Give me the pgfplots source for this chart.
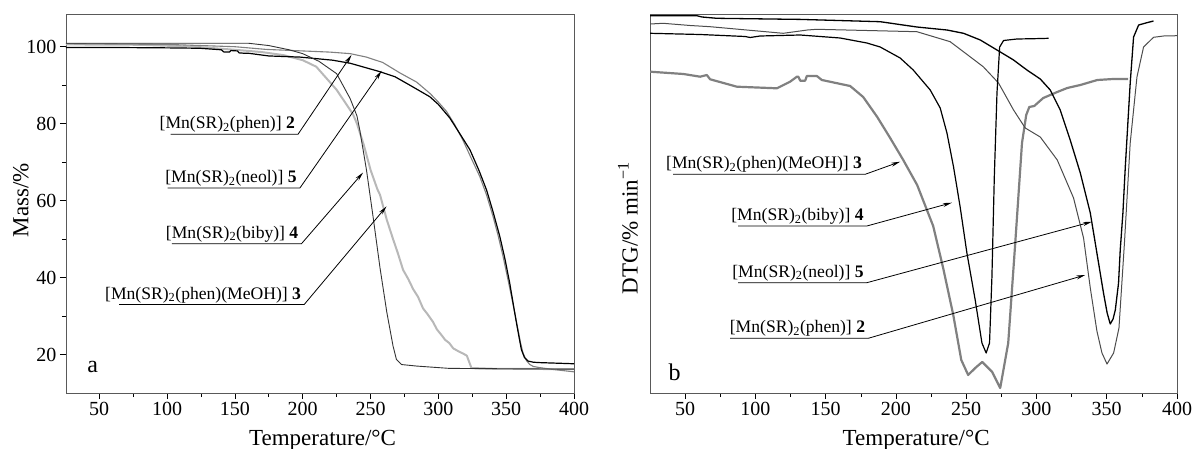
\documentclass[border=0pt]{standalone}
\usepackage{fontspec}
\setmainfont{Liberation Serif}
\usepackage{pgfplots}
\pgfplotsset{compat=1.18}
\usetikzlibrary{arrows.meta}

% TG curves (temperature, mass %)
\pgfplotstableread{
T m
25.5 100.8
60 100.7
100 100.6
150 100.0
173 99.3
200 98.9
220 98.6
235 98.2
247 97.3
259 95.9
271.6 93.2
284 90.8
294 87.8
300 85.6
306 83.2
312 79.8
318 75.8
324 71.2
330.5 66.3
335.5 61.5
340.3 55.9
344 51
347.7 45.5
351 40
353.9 35.1
356.5 30.5
358.7 26.5
360.5 23.2
362.4 20.4
365 18.4
367.4 17.4
370 16.9
374.7 16.6
385 16.1
400 15.5
}\tgphen
\pgfplotstableread{
T m
25.5 99.8
60 99.8
100 99.7
124 99.6
140 99.2
142 98.6
146 98.6
147 99.0
152 98.9
153 98.4
157 98.3
160 98.3
175 97.6
198 97.3
222 96.5
235 95.7
257 93.5
268 92.2
279 90.0
293.7 87.0
300 85.0
308.4 81.5
316 77.3
323.3 73.2
330 67.8
335.5 62.8
340 57.5
345.3 50.7
349 45
352.6 38.6
355.5 32.5
357.6 28.2
359.5 24.5
361.2 21.3
363.5 19.2
366.1 18.3
370 18.0
374.7 17.9
400 17.6
}\tgneol
\pgfplotstableread{
T m
25.5 100.9
100 100.9
160 100.9
175 100.3
190 99.2
200 98.2
212 96.2
225 93
235 86.5
240 82
242 78.5
247 68
252 55.5
257 42.5
262 31
266.6 22.2
269.1 18.7
272.8 17.4
284 17.0
308 16.4
350 16.3
400 16.2
}\tgbiby
\pgfplotstableread{
T m
25.5 100.6
80 100.5
120 100.0
150 99.2
170 98.6
186 97.8
200 96.5
210 94.8
225 88.8
237 82.5
240 80
245 74.5
250 68
255 63
257 61.5
262 55
266.6 50
270 46.5
274 42
278 39.5
281.4 37
285 35
288.7 32
292 30.5
296 28.5
299 26.5
302 25.2
305 23.8
308 23.0
311 21.6
315 20.8
318 20.3
321 19.7
324.4 16.5
340 16.3
400 16.2
}\tgmeoh

% DTG curves (temperature, relative units)
\pgfplotstableread{
T d
25.1 321.3
48.8 319
60.7 316.3
65.4 318
67.8 313.7
86.8 306.3
115.3 304.7
124.7 311.3
129.5 316.3
130.5 316.3
131.9 312.3
135.4 312.3
136.6 317
143.7 317
147.3 313
167.4 307
176.7 296
186.7 276
195.9 255
205.2 233
215.1 208
226.5 167
233.6 125
240.8 78
246.5 33
251.4 18
256.4 25
261.4 31
268.5 21
274.2 5
279.9 50
284.9 150
289.7 250
292.7 278
294.9 286
298.4 287
304.8 295
314.8 301
321.9 305
331.2 308
343.3 313
354.7 314
365.3 314
}\dtgmeoh
\pgfplotstableread{
T d
25.1 359.7
60.7 358.5
92.7 356.5
96.3 355.5
103.4 357
131.9 358
160.3 355
179.3 350
188.8 346
203 335
212.3 323
224.4 303
231.5 285
236.3 260
241 226
245.7 186
250.5 140
256.4 93
261.2 50
264.2 40
266.6 50
268.3 116
270 216
271.9 300
273.8 346
276.6 352.5
286.1 354
297.9 354.3
308.6 354.7
}\dtgbiby
\pgfplotstableread{
T d
25.1 377.3
58.3 377.3
62 376
72.6 374.7
131.9 373.6
188.8 371.3
214.9 366
236.3 363
248.1 359.7
260 353
271.9 343
283.7 333
293.2 323
302.7 314
309.8 303
316.9 283
324 253
331.2 220
338.3 180
343 140
347.7 100
350.3 80
352.5 69
354.5 74
356.1 83
358.4 110
359.6 143
361.5 180
363.2 226
366.7 310
369.1 356
372.7 368
378.6 370.3
383.3 372
}\dtgneol
\pgfplotstableread{
T d
25.1 369
34.3 369.7
53.6 367.5
67.8 366.3
119.8 359.7
137 363
143.7 363.7
214.9 361.3
238.6 351.3
262.1 326.3
273 310
283.7 283
292 265
302.7 256
314.8 233
326.4 195
333.5 155
338.3 105
343 62
346.6 40
350.2 29
354.9 40
358.7 65
362.6 150
366.7 250
371.5 316
376.2 346
383.3 355.7
390.5 357
400 357.3
}\dtgphen

\newcommand{\callout}[5]{%
  \draw[black, line width=0.8pt, -{Stealth[length=9pt,width=4pt]}]
    (axis cs:#1,#3) -- (axis cs:#2,#3) -- (axis cs:#4);
  \node[anchor=base east, inner sep=0pt, xshift=-3pt, yshift=5.5pt,
        font=\fontsize{17.6}{17.6}\selectfont] at (axis cs:#2,#3) {#5};
}
\newcommand{\mn}[1]{[Mn(SR)\textsubscript{2}#1]}

\pgfplotsset{
  panel/.style={
    scale only axis,
    height=379pt,
    axis line style={black!65, line width=0.8pt},
    tick style={black, line width=0.6pt},
    tick align=outside,
    tick pos=left,
    major tick length=6pt,
    minor tick length=4pt,
    xmax=400,
    xtick={50,100,...,400},
    minor x tick num=1,
    tick label style={font=\fontsize{20}{20}\selectfont},
    /pgf/number format/assume math mode=true,
    label style={font=\fontsize{23}{23}\selectfont},
    xlabel={Temperature/°C},
    xlabel style={at={(axis description cs:0.505,0)}, anchor=base, yshift=-52pt},
    clip mode=individual,
  },
}

\begin{document}
\begin{tikzpicture}
\path[use as bounding box] (0pt,0pt) rectangle (1195pt,448pt);

\begin{axis}[panel,
  at={(66pt,55pt)}, anchor=south west,
  width=508pt,
  xmin=25.5,
  ymin=10, ymax=108.5,
  ytick={20,40,...,100},
  minor y tick num=1,
  ylabel={Mass/\%},
  ylabel style={at={(axis description cs:-0.089,0.509)}, anchor=center},
]
\addplot[no marks, black!28, line width=2pt, line join=round] table[x=T, y=m] {\tgmeoh};
\addplot[no marks, black!50, line width=1.1pt, line join=round] table[x=T, y=m] {\tgphen};
\addplot[no marks, black, line width=1.2pt, line join=round] table[x=T, y=m] {\tgneol};
\addplot[no marks, black!80, line width=0.9pt, line join=round] table[x=T, y=m] {\tgbiby};

\callout{102.6}{196.6}{77.27}{236.0,97.85}{\mn{(phen)} \textbf{2}}
\callout{100.4}{197.9}{63.26}{258.1,93.7}{\mn{(neol)} \textbf{5}}
\callout{103.6}{199.1}{48.8}{244.5,67.3}{\mn{(biby)} \textbf{4}}
\callout{64.7}{201.1}{33.0}{261.8,58.5}{\mn{(phen)(MeOH)} \textbf{3}}
\node[anchor=base west, inner sep=0pt, font=\fontsize{24}{24}\selectfont] at (axis cs:41.2,15.26) {a};
\end{axis}

\begin{axis}[panel,
  at={(650pt,55pt)}, anchor=south west,
  width=527pt,
  xmin=25,
  ymin=0, ymax=379,
  ytick=\empty,
  ylabel={DTG/\% min\textsuperscript{−1}},
  ylabel style={at={(axis description cs:-0.042,0.435)}, anchor=center},
]
\addplot[no marks, black!50, line width=2.2pt, line join=round] table[x=T, y=d] {\dtgmeoh};
\addplot[no marks, black!70, line width=1pt, line join=round] table[x=T, y=d] {\dtgphen};
\addplot[no marks, black, line width=1.2pt, line join=round] table[x=T, y=d] {\dtgbiby};
\addplot[no marks, black, line width=1.3pt, line join=round] table[x=T, y=d] {\dtgneol};

\callout{41.5}{178.1}{218.7}{203.0,231.3}{\mn{(phen)(MeOH)} \textbf{3}}
\callout{87.7}{179.3}{167}{239.8,190.3}{\mn{(biby)} \textbf{4}}
\callout{87.7}{179.3}{110.3}{339.5,171.3}{\mn{(neol)} \textbf{5}}
\callout{82.0}{180.3}{54.7}{334.7,118}{\mn{(phen)} \textbf{2}}
\node[anchor=base west, inner sep=0pt, font=\fontsize{24}{24}\selectfont] at (axis cs:38.1,13) {b};
\end{axis}
\end{tikzpicture}
\end{document}
